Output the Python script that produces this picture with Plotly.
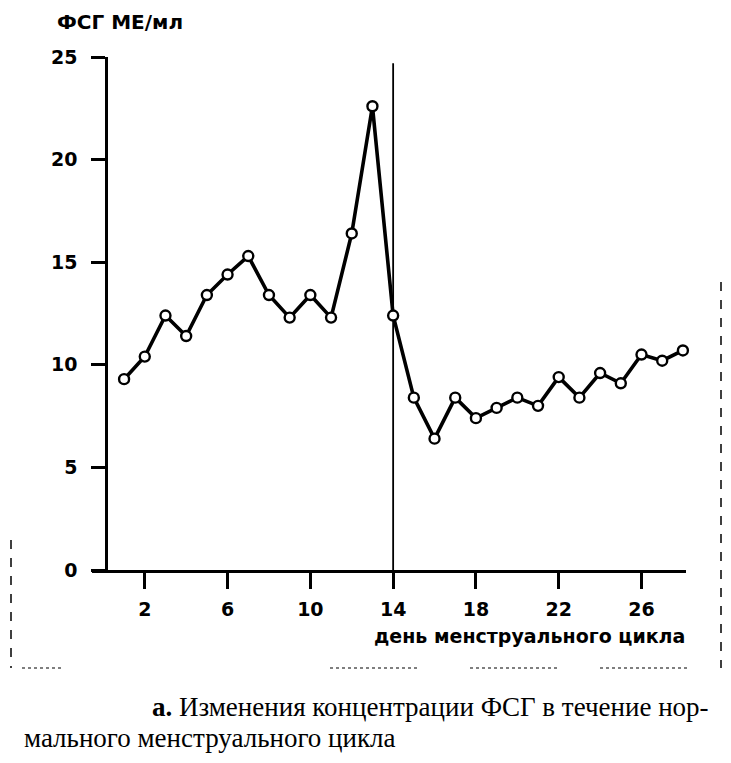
import plotly.graph_objects as go

# Data
days = list(range(1, 29))
fsh = [9.3, 10.4, 12.4, 11.4, 13.4, 14.4, 15.3, 13.4, 12.3, 13.4, 12.3, 16.4, 22.6, 12.4,
       8.4, 6.4, 8.4, 7.4, 7.9, 8.4, 8.0, 9.4, 8.4, 9.6, 9.1, 10.5, 10.2, 10.7]
x_ticks = [2, 6, 10, 14, 18, 22, 26]
y_ticks = [0, 5, 10, 15, 20, 25]
ovulation_day = 14
ovulation_top = 24.7

OFF = 8  # page body margin offset
W, H = 731 - 2 * OFF, 763 - 2 * OFF
# desired target pixel positions (reference image coords)
PL, PR, PT, PB = 92, 686, 57, 570
L, T = PL - OFF, PT - OFF
R = W - (PR - OFF)
B = H - (PB - OFF)
PW, PH = PR - PL, PB - PT


def px(xp):
    return (xp - PL) / PW


def py(yp):
    return (PB - yp) / PH


fig = go.Figure()
fig.add_trace(go.Scatter(
    x=days, y=fsh, mode="lines+markers",
    line=dict(color="black", width=3.6),
    marker=dict(symbol="circle", size=10, color="white",
                line=dict(color="black", width=2.4)),
    showlegend=False, cliponaxis=False,
))

font_ax = dict(family="DejaVu Sans, sans-serif", size=19, color="black", weight="bold")

fig.update_layout(
    width=W, height=H,
    margin=dict(l=L, r=R, t=T, b=B),
    paper_bgcolor="white", plot_bgcolor="white",
    xaxis=dict(
        range=[-0.55, 28.15], tickvals=x_ticks, ticktext=[str(v) for v in x_ticks],
        showgrid=False, zeroline=False, showline=True, linecolor="black", linewidth=2.5,
        ticks="outside", ticklen=16, tickwidth=2.5, tickcolor="black",
        tickfont=font_ax, ticklabelstandoff=4,
    ),
    yaxis=dict(
        range=[0, 25], tickvals=y_ticks, showgrid=False, zeroline=False,
        showline=True, linecolor="black", linewidth=2.5,
        anchor="free", position=px(106),
        ticks="outside", ticklen=14, tickwidth=2.5, tickcolor="black",
        tickfont=font_ax, ticklabelstandoff=10,
    ),
)

# ovulation line
fig.add_shape(type="line", xref="x", yref="y", x0=ovulation_day, x1=ovulation_day,
              y0=0, y1=ovulation_top, line=dict(color="black", width=1.8), layer="below")

# axis titles
fig.add_annotation(text="ФСГ МЕ/мл", xref="paper", yref="paper", x=px(55), y=py(8),
                   xanchor="left", yanchor="top", showarrow=False,
                   font=dict(family="DejaVu Sans, sans-serif", size=20, color="black", weight="bold"))
fig.add_annotation(text="день менструального цикла", xref="paper", yref="paper",
                   x=px(687), y=py(636), xanchor="right", yanchor="middle", showarrow=False,
                   font=dict(family="DejaVu Sans, sans-serif", size=19, color="black", weight="bold"))

# caption
serif = dict(family="Liberation Serif, Times New Roman, serif", size=27, color="black")
fig.add_annotation(text="<b>а.</b> Изменения концентрации ФСГ в течение нор-",
                   xref="paper", yref="paper", x=px(150), y=py(707),
                   xanchor="left", yanchor="middle", showarrow=False, font=serif)
fig.add_annotation(text="мального менструального цикла",
                   xref="paper", yref="paper", x=px(22), y=py(OFF + H - 0.5),
                   xanchor="left", yanchor="bottom", showarrow=False, font=serif)

# scan page-border artefacts
edge = dict(color="black", width=1.5, dash="dash")
for (x0, y0, x1, y1) in [(11, 540, 11, 668), (721, 282, 721, 668)]:
    fig.add_shape(type="line", xref="paper", yref="paper", x0=px(x0), x1=px(x1),
                  y0=py(y0), y1=py(y1), line=edge)
for (x0, x1) in [(22, 62), (330, 420), (470, 560), (600, 690)]:
    fig.add_shape(type="line", xref="paper", yref="paper", x0=px(x0), x1=px(x1),
                  y0=py(668), y1=py(668), line=dict(color="black", width=1.2, dash="dot"))

fig.write_html("out.html")
